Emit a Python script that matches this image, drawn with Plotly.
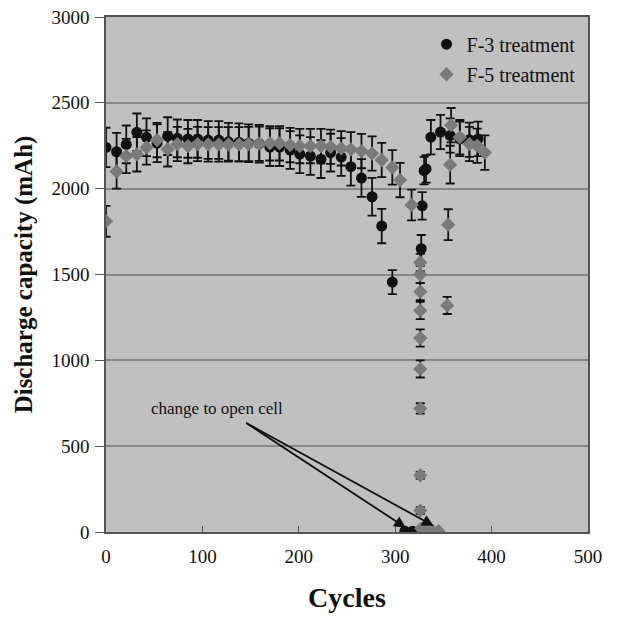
import plotly.graph_objects as go

# F-3 treatment (black circles)
f3_cycles = [0, 11, 21, 32, 42, 53, 64, 74, 85, 95, 106, 117, 127, 138, 148, 159, 170, 180, 191, 201,
             212, 223, 233, 244, 254, 265, 276, 286, 297, 310, 318,
             327, 328, 330, 332, 337, 347, 357, 367, 377, 386]
f3_values = [2240, 2215, 2258, 2328, 2299, 2265, 2306, 2293, 2290, 2290, 2283, 2283, 2273, 2270, 2265, 2262, 2242, 2242, 2225, 2201,
             2190, 2172, 2210, 2184, 2128, 2062, 1953, 1782, 1456, 5, 5,
             1650, 1900, 2105, 2115, 2300, 2330, 2310, 2290, 2285, 2290]
f3_err = [115, 110, 110, 110, 110, 110, 110, 110, 110, 110, 110, 110, 110, 110, 110, 110, 110, 110, 110, 110,
          110, 110, 110, 110, 110, 110, 110, 100, 70, 0, 0,
          80, 80, 80, 80, 100, 100, 100, 100, 100, 100]

# F-5 treatment (grey diamonds)
f5_cycles = [0, 11, 21, 32, 42, 53, 64, 74, 85, 95, 106, 117, 127, 138, 148, 159, 170, 180, 191, 201,
             212, 223, 233, 244, 254, 265, 276, 286, 297, 305, 317,
             326, 326, 326, 326, 326, 326, 326, 326, 326, 327, 333, 339, 345,
             354, 355, 357, 358, 367, 377, 385, 393]
f5_values = [1810, 2100, 2190, 2200, 2240, 2283, 2229, 2260, 2248, 2260, 2258, 2258, 2258, 2258, 2260, 2262, 2264, 2264, 2254, 2248,
             2248, 2248, 2244, 2235, 2229, 2219, 2205, 2167, 2124, 2050, 1905,
             1570, 1500, 1400, 1290, 1130, 950, 720, 330, 125, 20, 5, 5, 5,
             1320, 1790, 2140, 2370, 2300, 2260, 2250, 2210]
f5_err = [90, 100, 100, 100, 100, 100, 100, 100, 100, 100, 100, 100, 100, 100, 100, 100, 100, 100, 100, 100,
          100, 100, 100, 100, 100, 100, 100, 100, 100, 100, 90,
          50, 50, 50, 50, 50, 50, 30, 20, 20, 10, 0, 0, 0,
          50, 90, 110, 100, 100, 100, 100, 100]

y_ticks = [0, 500, 1000, 1500, 2000, 2500, 3000]
x_ticks = [0, 100, 200, 300, 400, 500]

serif = "Liberation Serif"

fig = go.Figure()
fig.add_trace(go.Scatter(
    x=f3_cycles, y=f3_values, mode="markers", name="F-3 treatment", legendgroup="a",
    marker=dict(symbol="circle", size=11, color="#111111"),
    error_y=dict(type="data", array=f3_err, visible=True, color="#111111", thickness=1.8, width=4.5),
))
fig.add_trace(go.Scatter(
    x=f5_cycles, y=f5_values, mode="markers", name="F-5 treatment", legendgroup="b",
    marker=dict(symbol="diamond", size=11, color="#7a7a7a"),
    error_y=dict(type="data", array=f5_err, visible=True, color="#111111", thickness=1.8, width=4.5),
))

# arrows "change to open cell"
arrow_start = (144, 640)
arrow_tips = [(311, 25), (340, 35)]
for tx, ty in arrow_tips:
    fig.add_annotation(
        x=tx, y=ty, ax=arrow_start[0], ay=arrow_start[1], xref="x", yref="y", axref="x", ayref="y",
        text="", showarrow=True, arrowhead=2, arrowsize=1.3, arrowwidth=1.8, arrowcolor="#111111",
    )
fig.add_annotation(
    x=45, y=720, xref="x", yref="y", text="change to open cell", showarrow=False,
    xanchor="left", yanchor="middle", font=dict(family=serif, size=17, color="#111111"),
)

fig.update_layout(
    width=631, height=620,
    margin=dict(l=106, r=43, t=17, b=88),
    paper_bgcolor="white", plot_bgcolor="#c0c0c0",
    font=dict(family=serif, color="#111111"),
    showlegend=True,
    legend=dict(x=0.665, y=0.985, xanchor="left", yanchor="top", bgcolor="rgba(0,0,0,0)",
                font=dict(family=serif, size=20, color="#111111"), itemsizing="trace",
                tracegroupgap=1),
    xaxis=dict(range=[0, 500], tickvals=x_ticks, showgrid=False, zeroline=False, automargin=False,
               showline=True, linecolor="#555555", linewidth=1.5, mirror=True,
               ticks="inside", ticklen=6, tickcolor="#555555", ticklabelstandoff=6,
               tickfont=dict(family=serif, size=19, color="#111111"),
               title=dict(text="<b>Cycles</b>", font=dict(family=serif, size=28, color="#111111"), standoff=22)),
    yaxis=dict(range=[0, 3000], tickvals=y_ticks, showgrid=True, gridcolor="#888888", gridwidth=1.5,
               zeroline=False, showline=True, linecolor="#555555", linewidth=1.5, mirror=True, automargin=False,
               ticks="outside", ticklen=9, tickcolor="#555555", ticklabelstandoff=2,
               tickfont=dict(family=serif, size=19, color="#111111"),
               title=dict(text="<b>Discharge capacity (mAh)</b>", font=dict(family=serif, size=25, color="#111111"), standoff=12)),
)

fig.write_html("out.html")
